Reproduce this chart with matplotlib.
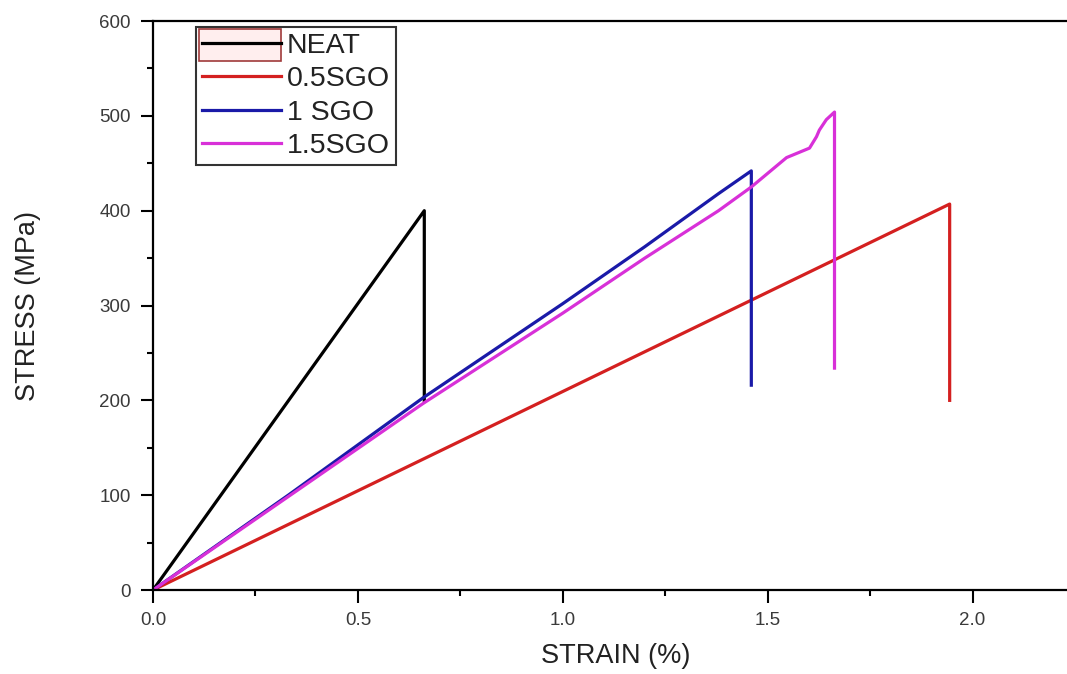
#! /usr/bin/env python3

import numpy as np
import matplotlib.pyplot as plt
from matplotlib.patches import Rectangle
from matplotlib.ticker import MultipleLocator, FormatStrFormatter

plt.rcParams['font.family'] = ['Liberation Sans', 'DejaVu Sans']

# stress-strain curves read from the tensile tests (strain in %, stress in MPa)
neat_strain = [0.0, 0.662, 0.662]
neat_stress = [0.0, 400.0, 200.0]

sgo05_strain = [0.0, 1.944, 1.944]
sgo05_stress = [0.0, 407.0, 200.0]

sgo1_strain = [0.0, 0.33, 0.66, 1.0, 1.2, 1.38, 1.46, 1.46]
sgo1_stress = [0.0, 100.0, 203.0, 302.0, 362.0, 418.0, 442.0, 216.0]

sgo15_strain = [0.0, 0.66, 1.0, 1.2, 1.38, 1.46, 1.546, 1.602, 1.619, 1.626, 1.643, 1.663, 1.663]
sgo15_stress = [0.0, 197.0, 292.0, 350.0, 400.0, 425.0, 456.0, 466.0, 478.0, 485.0, 496.0, 504.0, 234.0]

labels = ['NEAT', '0.5SGO', '1 SGO', '1.5SGO']
colors = ['#000000', '#d42020', '#1a1aa8', '#d830d8']

fig = plt.figure(figsize=(10.67, 6.74), dpi=100)
ax = fig.add_axes([0.1434, 0.1246, 0.868, 0.8442])

curves = [(neat_strain, neat_stress), (sgo05_strain, sgo05_stress),
          (sgo1_strain, sgo1_stress), (sgo15_strain, sgo15_stress)]
for (x, y), lab, c in zip(curves, labels, colors):
    ax.plot(x, y, color=c, linewidth=2.3, label=lab)

ax.set_xlim(0, 2.26)
ax.set_ylim(0, 600)
ax.xaxis.set_major_locator(MultipleLocator(0.5))
ax.xaxis.set_minor_locator(MultipleLocator(0.25))
ax.yaxis.set_major_locator(MultipleLocator(100))
ax.yaxis.set_minor_locator(MultipleLocator(50))
ax.xaxis.set_major_formatter(FormatStrFormatter('%.1f'))
ax.yaxis.set_major_formatter(FormatStrFormatter('%d'))

ax.tick_params(which='major', direction='out', length=9, width=1.5,
               labelsize=13.5, labelcolor='#3a3a3a', pad=7)
ax.tick_params(which='minor', direction='out', length=4, width=1.5)
ax.tick_params(top=False, right=False)
for side in ['left', 'bottom', 'top']:
    ax.spines[side].set_linewidth(1.6)
ax.spines['right'].set_visible(False)

ax.set_xlabel('STRAIN (%)', fontsize=19.5, color='#222222', labelpad=10)
ax.set_ylabel('STRESS (MPa)', fontsize=19.5, color='#222222', labelpad=42)

leg = ax.legend(loc='upper left', bbox_to_anchor=(0.0464, 0.9895), borderaxespad=0,
                fontsize=20.5, handlelength=2.8, handletextpad=0.2, labelspacing=0.26,
                borderpad=0.2, fancybox=False, edgecolor='black')
leg.get_frame().set_linewidth(1.5)
leg.get_frame().set_facecolor('none')
leg.set_zorder(5)
for t in leg.get_texts():
    t.set_color('#222222')

# highlight box around the NEAT handle, sitting under the (transparent) legend
W, H = 1067, 674
ax.add_patch(Rectangle((199 / W, 1 - 61 / H), 82 / W, 32 / H,
                       transform=fig.transFigure, facecolor='#ffeeee',
                       edgecolor='#a03a3a', linewidth=1.2, zorder=4, clip_on=False))

fig.savefig('out.png', dpi=100)
